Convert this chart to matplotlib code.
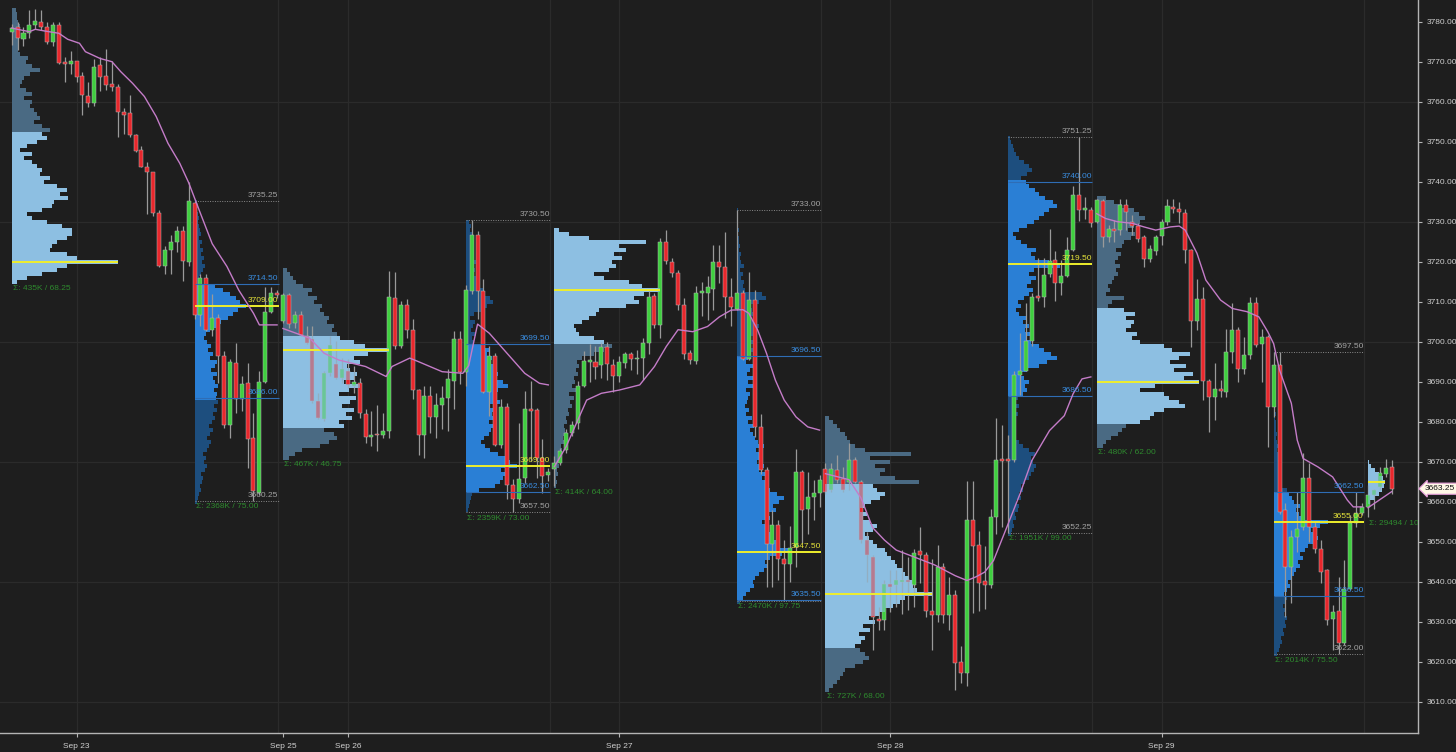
import numpy as np
import matplotlib
matplotlib.use('Agg')
import matplotlib.pyplot as plt
from matplotlib.transforms import blended_transform_factory

plt.rcParams['font.family'] = ['Liberation Sans', 'DejaVu Sans']

#-----30 min candles (open, high, low, close) per session-------#
eth_0923 = [
    (3777.4, 3779.5, 3774.1, 3778.4), (3778.7, 3780.0, 3773.0, 3775.9), (3775.8, 3778.7, 3774.0, 3777.2),
    (3777.2, 3783.0, 3776.0, 3779.2), (3779.2, 3783.2, 3778.2, 3780.2), (3779.9, 3783.0, 3778.0, 3778.8),
    (3778.7, 3780.0, 3774.5, 3775.0), (3774.9, 3780.0, 3774.0, 3779.3), (3779.3, 3780.0, 3769.5, 3769.7),
    (3770.0, 3771.2, 3765.0, 3769.5), (3769.4, 3772.8, 3767.0, 3770.3), (3770.2, 3770.3, 3765.0, 3766.2),
    (3766.4, 3767.4, 3756.6, 3761.6), (3761.4, 3764.9, 3758.7, 3759.7), (3759.7, 3770.7, 3759.0, 3768.7),
    (3769.1, 3771.2, 3762.8, 3766.2), (3766.4, 3773.2, 3763.0, 3764.1), (3764.5, 3770.3, 3762.8, 3763.8),
    (3763.6, 3764.5, 3751.1, 3757.4), (3757.4, 3758.4, 3752.0, 3756.8), (3757.2, 3761.6, 3751.1, 3751.6),
    (3751.7, 3752.0, 3747.4, 3747.8), (3748.0, 3749.0, 3743.6, 3743.6), (3743.6, 3744.9, 3732.0, 3742.4),
    (3742.5, 3742.5, 3731.5, 3732.1), (3732.1, 3733.0, 3718.6, 3719.0), (3719.0, 3724.0, 3717.0, 3723.0),
    (3723.0, 3726.7, 3717.0, 3724.9), (3724.9, 3729.0, 3722.4, 3727.6), (3727.6, 3729.0, 3715.3, 3720.3),
    (3719.9, 3739.9, 3719.0, 3735.1),
]
rth_0923 = [
    (3734.8, 3735.25, 3705.6, 3706.6), (3706.6, 3716.9, 3704.0, 3715.9), (3715.9, 3716.9, 3702.7, 3703.0),
    (3703.0, 3712.0, 3701.5, 3706.0), (3706.0, 3706.9, 3689.8, 3696.4), (3696.4, 3697.7, 3678.5, 3679.3),
    (3679.1, 3695.6, 3676.0, 3694.9), (3694.6, 3699.8, 3682.3, 3685.6), (3685.6, 3691.4, 3682.7, 3689.4),
    (3689.8, 3694.8, 3668.5, 3675.8), (3676.0, 3682.3, 3660.25, 3662.6), (3662.2, 3692.7, 3661.8, 3690.0),
    (3690.0, 3713.6, 3689.8, 3707.5), (3707.5, 3713.6, 3707.3, 3712.3), (3712.1, 3713.0, 3711.0, 3711.6),
]
eth_0926 = [
    (3705.2, 3712.3, 3704.8, 3711.6), (3711.6, 3712.3, 3703.5, 3704.4), (3704.6, 3707.7, 3703.5, 3706.6),
    (3706.6, 3707.7, 3701.4, 3701.6), (3701.5, 3704.0, 3699.4, 3699.8), (3700.6, 3704.0, 3684.8, 3685.2),
    (3685.2, 3687.3, 3680.6, 3681.0), (3680.6, 3692.7, 3680.2, 3692.3), (3692.3, 3701.5, 3691.4, 3699.1),
    (3694.4, 3700.2, 3690.6, 3691.0), (3691.0, 3696.0, 3689.8, 3693.1), (3692.7, 3695.6, 3688.5, 3689.1),
    (3689.0, 3693.9, 3687.3, 3690.0), (3689.8, 3691.0, 3681.0, 3682.3), (3682.0, 3683.1, 3674.8, 3676.2),
    (3676.2, 3682.7, 3673.9, 3676.8), (3676.9, 3684.3, 3672.7, 3676.6), (3676.8, 3682.3, 3676.0, 3677.7),
    (3677.7, 3717.75, 3676.0, 3711.3), (3710.9, 3717.5, 3698.1, 3699.0), (3699.0, 3710.2, 3698.5, 3709.1),
    (3709.1, 3710.6, 3701.0, 3703.0), (3703.0, 3705.6, 3685.6, 3687.9), (3687.9, 3688.1, 3671.8, 3676.8),
    (3676.8, 3688.9, 3671.0, 3686.4), (3686.4, 3688.9, 3677.3, 3681.3), (3681.3, 3687.3, 3676.0, 3684.3),
    (3684.3, 3688.9, 3678.1, 3686.0), (3686.0, 3693.1, 3677.7, 3690.6), (3690.2, 3702.7, 3683.1, 3700.8),
    (3700.8, 3702.7, 3689.4, 3692.4),
]
rth_0926 = [
    (3692.5, 3714.1, 3688.9, 3712.9), (3712.7, 3730.5, 3711.9, 3726.7), (3726.7, 3727.7, 3705.6, 3712.7),
    (3712.7, 3715.6, 3687.3, 3687.4), (3687.4, 3698.9, 3681.4, 3696.4), (3696.4, 3697.3, 3673.9, 3674.3),
    (3674.3, 3685.6, 3673.5, 3683.8), (3683.8, 3684.8, 3660.6, 3664.3), (3664.3, 3665.6, 3657.5, 3660.7),
    (3660.7, 3679.7, 3659.7, 3665.7), (3666.0, 3687.7, 3664.7, 3683.3), (3683.3, 3690.2, 3670.2, 3682.6),
    (3682.9, 3683.5, 3666.0, 3671.0), (3671.0, 3675.6, 3662.2, 3666.4), (3666.6, 3668.5, 3665.2, 3667.4),
]
eth_0927 = [
    (3668.3, 3671.4, 3664.0, 3669.7), (3669.7, 3673.5, 3669.3, 3672.7), (3672.9, 3678.1, 3672.2, 3677.3),
    (3677.3, 3680.2, 3676.4, 3679.3), (3679.6, 3690.2, 3678.1, 3688.9), (3689.0, 3697.8, 3688.6, 3695.3),
    (3695.0, 3699.5, 3690.0, 3695.3), (3695.0, 3699.0, 3690.7, 3693.8), (3694.2, 3700.0, 3691.0, 3698.6),
    (3698.6, 3700.0, 3690.5, 3694.4), (3694.2, 3695.7, 3687.5, 3691.5), (3691.5, 3696.5, 3690.0, 3695.0),
    (3694.8, 3697.5, 3693.5, 3696.9), (3696.9, 3697.5, 3693.0, 3695.8), (3695.6, 3698.0, 3692.0, 3695.7),
    (3696.0, 3701.0, 3690.5, 3699.8), (3699.8, 3713.0, 3697.0, 3711.1), (3711.5, 3712.3, 3703.5, 3704.2),
    (3704.2, 3726.0, 3701.0, 3725.0), (3725.0, 3728.0, 3719.5, 3720.3), (3720.0, 3721.0, 3716.3, 3717.3),
    (3717.1, 3718.0, 3708.0, 3709.2), (3709.2, 3711.0, 3695.6, 3696.9), (3697.1, 3698.0, 3694.5, 3695.4),
    (3695.1, 3714.0, 3694.5, 3712.2), (3712.3, 3715.0, 3706.5, 3712.4), (3712.3, 3716.5, 3705.5, 3713.6),
    (3713.2, 3724.2, 3708.0, 3720.0), (3720.0, 3724.2, 3714.7, 3718.8), (3718.6, 3727.5, 3706.0, 3711.3),
    (3711.3, 3716.0, 3704.0, 3708.6),
]
rth_0927 = [
    (3708.3, 3733.0, 3707.9, 3712.2), (3712.2, 3712.9, 3695.4, 3695.8), (3695.8, 3717.5, 3695.4, 3710.4),
    (3710.4, 3712.9, 3676.2, 3678.7), (3678.7, 3682.0, 3667.0, 3667.9), (3667.9, 3668.7, 3638.7, 3649.4),
    (3649.4, 3657.9, 3638.7, 3654.3), (3654.3, 3655.4, 3640.4, 3645.8), (3645.8, 3650.4, 3635.25, 3644.4),
    (3644.4, 3653.9, 3640.0, 3648.5), (3648.7, 3673.3, 3643.7, 3667.5), (3667.5, 3667.9, 3649.6, 3657.9),
    (3658.1, 3667.5, 3652.0, 3661.1), (3661.1, 3665.4, 3655.4, 3662.2), (3662.2, 3666.7, 3658.7, 3665.4),
]
eth_0928 = [
    (3668.3, 3669.6, 3662.0, 3662.5), (3662.9, 3669.6, 3662.5, 3668.1), (3667.9, 3671.7, 3664.6, 3665.4),
    (3665.6, 3668.7, 3662.5, 3662.9), (3665.0, 3674.6, 3662.9, 3670.4), (3670.4, 3671.2, 3664.6, 3665.0),
    (3665.0, 3665.4, 3649.6, 3650.4), (3650.4, 3652.5, 3640.0, 3646.7), (3646.3, 3646.7, 3622.9, 3631.2),
    (3630.8, 3633.7, 3627.9, 3630.2), (3630.4, 3640.4, 3627.9, 3639.4), (3639.4, 3642.9, 3632.5, 3638.7),
    (3639.2, 3642.9, 3633.7, 3640.4), (3640.0, 3647.9, 3632.0, 3640.3), (3640.2, 3646.2, 3632.9, 3640.0),
    (3639.2, 3648.3, 3633.7, 3647.3), (3647.6, 3653.7, 3639.6, 3646.8), (3646.7, 3647.5, 3631.2, 3632.7),
    (3632.7, 3645.8, 3622.9, 3631.6), (3631.6, 3649.2, 3630.0, 3643.6), (3643.6, 3644.6, 3629.6, 3631.6),
    (3631.6, 3641.2, 3627.9, 3636.7), (3636.7, 3637.9, 3613.0, 3619.6), (3620.0, 3624.0, 3614.8, 3617.1),
    (3617.1, 3665.2, 3614.0, 3655.5), (3655.5, 3665.2, 3632.3, 3649.0), (3649.2, 3652.7, 3632.8, 3639.7),
    (3640.2, 3649.0, 3633.3, 3639.3), (3639.3, 3658.3, 3638.4, 3656.3), (3656.3, 3681.0, 3652.0, 3670.5),
    (3670.8, 3679.1, 3653.7, 3670.3),
]
rth_0928 = [
    (3670.8, 3676.8, 3652.25, 3670.1), (3670.5, 3692.6, 3670.0, 3691.6), (3691.6, 3702.3, 3686.6, 3692.6),
    (3692.8, 3709.7, 3692.6, 3700.2), (3700.2, 3712.1, 3699.0, 3711.1), (3711.5, 3720.9, 3710.2, 3711.0),
    (3711.2, 3720.9, 3708.8, 3716.7), (3716.9, 3728.3, 3716.2, 3720.1), (3720.4, 3722.7, 3710.2, 3714.8),
    (3714.8, 3720.4, 3711.6, 3716.5), (3716.5, 3726.1, 3716.2, 3723.0), (3723.0, 3738.9, 3722.7, 3736.6),
    (3736.6, 3751.25, 3730.1, 3732.9), (3733.0, 3736.1, 3730.6, 3733.2), (3732.9, 3733.8, 3728.7, 3729.7),
]
eth_0929 = [
    (3730.0, 3735.8, 3729.6, 3735.4), (3735.2, 3735.8, 3723.7, 3726.2), (3726.2, 3729.2, 3725.0, 3728.3),
    (3728.3, 3730.4, 3725.0, 3727.7), (3727.9, 3735.8, 3726.7, 3734.2), (3734.2, 3735.8, 3727.9, 3732.5),
    (3730.0, 3731.6, 3726.7, 3729.0), (3729.0, 3729.6, 3725.0, 3725.8), (3726.1, 3726.7, 3718.6, 3720.6),
    (3720.8, 3724.2, 3720.0, 3723.1), (3722.7, 3726.7, 3721.7, 3726.2), (3726.4, 3730.8, 3724.2, 3730.0),
    (3730.0, 3735.8, 3729.2, 3733.9), (3733.6, 3735.8, 3732.1, 3733.1), (3733.3, 3735.0, 3729.6, 3732.5),
    (3732.1, 3733.3, 3719.6, 3722.9), (3722.9, 3723.3, 3698.7, 3705.2), (3705.2, 3715.8, 3702.9, 3710.6),
    (3710.8, 3713.7, 3685.4, 3690.2), (3690.2, 3690.8, 3677.5, 3686.1), (3686.1, 3694.6, 3680.4, 3688.1),
    (3688.1, 3690.4, 3686.2, 3687.6), (3687.5, 3703.3, 3686.2, 3697.5), (3697.5, 3709.6, 3694.6, 3702.9),
    (3702.9, 3703.7, 3690.0, 3693.3), (3693.3, 3701.2, 3692.0, 3696.6), (3696.6, 3711.2, 3695.8, 3709.7),
    (3709.7, 3711.2, 3698.7, 3699.2), (3699.4, 3703.3, 3690.0, 3701.1), (3701.1, 3701.6, 3673.75, 3683.7),
]
rth_0929 = [
    (3683.7, 3697.5, 3681.2, 3694.1), (3694.1, 3697.5, 3657.0, 3657.5), (3657.9, 3659.6, 3631.2, 3643.7),
    (3643.7, 3652.9, 3634.6, 3651.1), (3651.3, 3662.5, 3647.5, 3653.3), (3653.7, 3672.2, 3652.9, 3666.0),
    (3666.0, 3669.7, 3650.0, 3653.7), (3653.7, 3655.0, 3647.1, 3648.1), (3648.3, 3650.4, 3639.6, 3642.5),
    (3642.9, 3643.3, 3629.2, 3630.4), (3630.6, 3634.2, 3622.9, 3632.5), (3632.7, 3641.2, 3622.0, 3624.6),
    (3624.6, 3645.4, 3624.2, 3638.3), (3638.3, 3656.6, 3637.9, 3654.7), (3654.7, 3662.5, 3653.7, 3657.2),
    (3657.2, 3659.6, 3656.6, 3658.7),
]
eth_0930 = [
    (3658.8, 3664.2, 3656.2, 3661.6), (3661.6, 3663.3, 3658.3, 3662.9), (3663.7, 3668.7, 3662.9, 3667.2),
    (3667.0, 3670.8, 3666.2, 3668.4), (3668.7, 3670.5, 3661.9, 3663.25),
]

#-----volume profiles, 1 point rows from the low upward (relative volume)-------#
prof_eth_0923 = [5, 15, 30, 45, 55, 106, 65, 55, 38, 40, 45, 55, 60, 60, 50, 35, 20, 15, 30, 40,
                 42, 56, 48, 55, 45, 32, 38, 28, 30, 25, 20, 12, 20, 8, 15, 25, 35, 30, 38, 30,
                 22, 28, 25, 22, 18, 20, 12, 20, 14, 8, 10, 12, 18, 28, 20, 14, 16, 8, 6, 7,
                 6, 6, 7, 7, 8, 6, 5, 5, 4]
prof_rth_0923 = [2, 3, 4, 6, 5, 7, 8, 6, 10, 12, 9, 11, 8, 12, 14, 16, 12, 15, 18, 14,
                 17, 20, 18, 22, 19, 23, 21, 22, 19, 23, 20, 18, 22, 16, 20, 22, 15, 18, 13, 16,
                 12, 9, 11, 15, 22, 26, 33, 38, 42, 50, 44, 40, 35, 28, 20, 5, 4, 6, 8, 10,
                 7, 9, 6, 8, 5, 7, 4, 6, 5, 4, 3, 4, 3, 2, 3, 2]
prof_eth_0926 = [6, 12, 19, 36, 45, 53, 50, 40,
                 60, 55, 68, 62, 70, 58, 66, 72, 55, 65, 76, 60, 70, 73, 66, 63, 76, 70, 83, 104, 80, 70, 56,
                 53, 48, 50, 43, 45, 40, 36, 38, 30, 33, 25, 28, 20, 13, 10, 7, 4]
prof_rth_0926 = [2, 3, 4, 5, 6,
                 13, 30, 35, 38, 40, 36, 52, 45, 40, 33, 25, 20, 15, 18, 24, 26, 28, 24, 30, 27,
                 32, 25, 35, 30, 28, 33, 43, 38, 30, 33, 28, 30, 26, 27, 22, 25, 20,
                 8, 6, 10, 5, 7, 9, 4, 8, 18, 22, 28, 25, 20, 17, 12, 10, 14, 8, 9, 7,
                 10, 6, 8, 5, 7, 6, 5, 7, 4, 5, 3]
prof_eth_0927 = [2, 3, 2, 4, 3, 5, 4, 6, 5, 8, 7, 10, 9, 12, 11, 10, 13, 12, 15, 14,
                 18, 16, 20, 15, 22, 18, 21, 20, 24, 22, 25, 23, 28, 40, 50, 58,
                 50, 40, 25, 22, 20, 28, 35, 42, 45, 72, 85, 80, 90, 106, 88, 75, 50, 40, 55,
                 62, 58, 68, 60, 72, 65, 92, 35, 15, 5]
prof_rth_0927 = [3, 5, 8, 12, 15, 14, 16, 20, 24, 28, 25, 30, 40, 46, 38, 36, 30, 33, 28, 25,
                 22, 30, 26, 35, 32, 38, 42, 36, 30, 25, 28, 22, 26, 20, 24, 18, 22, 20, 17, 24,
                 19, 16, 14, 12, 15, 10, 13, 8, 11, 7, 9, 10, 12, 8, 14, 10, 15, 9, 12, 14, 8, 10,
                 12, 14, 10, 16, 12, 18, 14, 20, 15, 12, 17, 13, 10, 20, 26, 22, 7, 5, 6, 4,
                 5, 3, 6, 4, 3, 4, 2, 3, 2, 2, 1, 2, 1, 1, 1, 1, 1]
prof_eth_0928 = [4, 8, 12, 15, 18, 20, 30, 38, 44, 40, 35,
                 30, 36, 40, 34, 45, 38, 50, 44, 54, 60, 68, 75, 80, 107, 92, 88, 87, 84, 80, 78,
                 72, 70, 66, 62, 60, 52, 48, 44, 40, 48, 52, 45, 38, 42, 35, 40, 46, 55, 60, 52, 48,
                 94, 70, 55, 60, 50, 65, 45, 86, 40, 30, 25, 22, 20, 15, 12, 8, 4]
prof_rth_0928 = [3, 4, 6, 5, 8, 7, 9, 10, 8, 12, 10, 14, 12, 16, 20, 22, 25, 27, 24, 22,
                 26, 20, 14, 10, 8, 6, 7, 5, 8, 6, 9, 7, 10, 8, 9,
                 14, 18, 16, 20, 15, 12, 18, 30, 38, 47, 42, 35, 30, 22, 18, 23, 16, 20, 14, 18,
                 10, 8, 12, 9, 15, 20, 24, 18, 22, 27, 20, 25, 50, 40, 26, 22, 27, 18, 12, 8,
                 5, 10, 18, 25, 30, 35, 40, 47, 44, 36, 30, 26, 20, 17,
                 12, 18, 23, 20, 15, 10, 8, 6, 5, 3, 2]
prof_eth_0929 = [6, 10, 15, 22, 26, 30,
                 45, 55, 59, 70, 91, 85, 75, 69, 45, 60, 106, 90, 99, 80, 92, 76, 85, 96, 78, 70,
                 45, 36, 42, 30, 35, 38, 30, 40, 28,
                 12, 16, 28, 10, 14, 12, 16, 18, 22, 20, 24, 19, 22, 25, 20, 26, 28, 35, 40, 32,
                 38, 45, 50, 44, 38, 26, 18, 10]
prof_rth_0929 = [3, 5, 6, 8, 7, 10, 9, 12, 11, 13, 10, 12, 9, 11, 13,
                 10, 13, 16, 14, 18, 20, 22, 26, 24, 28, 26, 30, 33, 38, 43, 40, 36, 45, 53, 29,
                 25, 22, 26, 20, 18, 15,
                 13, 8, 7, 6, 7, 5, 6, 4, 5, 4, 3, 4, 3, 2, 3, 2, 2, 2, 1, 2,
                 1, 1, 1, 1, 1, 1, 1, 1, 1, 1, 1, 1, 1, 1, 1]
prof_eth_0930 = [2, 6, 10, 12, 14, 15, 13, 10, 6, 3, 1]

prof_lo = [3715, 3660, 3671, 3658, 3664, 3635, 3613, 3652, 3674, 3622, 3660]
va_lo = [3715, 3686, 3679, 3662.5, 3700, 3635.5, 3624, 3686.5, 3680, 3636.5, 3660]
va_hi = [3752, 3714.5, 3701, 3699.5, 3728, 3696.5, 3664, 3740, 3708, 3662.5, 3670]
poc = [3720, 3709.0, 3698, 3669.0, 3713, 3647.5, 3637, 3719.5, 3690, 3655.0, 3665]
sigma_txt = ['Σ: 435K / 68.25', 'Σ: 2368K / 75.00', 'Σ: 467K / 46.75', 'Σ: 2359K / 73.00',
             'Σ: 414K / 64.00', 'Σ: 2470K / 97.75', 'Σ: 727K / 68.00', 'Σ: 1951K / 99.00',
             'Σ: 480K / 62.00', 'Σ: 2014K / 75.50', 'Σ: 29494 / 10.00']

# RTH session levels
rth_high = [3735.25, 3730.50, 3733.00, 3751.25, 3697.50]
rth_low = [3660.25, 3657.50, 3635.25, 3652.25, 3622.00]

#-----session VWAP (bar, price)--------------------------#
vwap_0923 = [(0, 3778.4), (3, 3777.5), (4, 3778.1), (5.5, 3777.7), (8, 3777.1), (9.5, 3775.6), (11.5, 3774.6),
             (12.5, 3772.5), (15, 3770.8), (17, 3770.0), (18.5, 3767.5), (20.5, 3764.6), (22.5, 3761.3),
             (24.5, 3756.3), (26.5, 3749.6), (28.5, 3744.6), (30, 3739.8), (32, 3732.1), (34, 3724.5),
             (36.5, 3718.8), (38.5, 3712.9), (41, 3707.1), (42, 3704.2), (45, 3704.2)]
vwap_0926 = [(46, 3703.3), (50.5, 3700.9), (53, 3697.1), (55.5, 3695.4), (60, 3693.8), (63.5, 3691.3),
             (64.5, 3693.8), (67.5, 3695.9), (69, 3695.0), (73, 3692.5), (76.5, 3692.1), (77.5, 3694.0),
             (79, 3704.4), (81, 3702.1), (84, 3697.1), (87, 3692.1), (89.5, 3689.6), (91, 3689.2)]
vwap_0927 = [(92, 3668.7), (94, 3673.7), (96, 3680.4), (97.5, 3685.4), (100, 3687.1), (103, 3687.9),
             (106.5, 3689.2), (109, 3693.8), (111, 3698.8), (113, 3703.0), (115.5, 3702.5), (118, 3703.8),
             (120, 3706.2), (122, 3707.9), (124, 3708.0), (125, 3707.1), (126.5, 3702.9), (128, 3697.1),
             (129.5, 3690.4), (131, 3685.4), (133, 3681.2), (135, 3678.7), (137, 3677.9)]
vwap_0928 = [(138, 3667.0), (142, 3665.5), (144, 3661.0), (146, 3653.5), (148, 3650.4), (150, 3647.9),
             (153, 3646.2), (156.5, 3644.2), (160, 3641.5), (162, 3640.3), (163.5, 3641.2), (165, 3642.4),
             (166.5, 3645.3), (168.5, 3652.7), (171, 3662.0), (173, 3670.3), (176, 3677.8), (178.5, 3681.5),
             (180, 3687.0), (181.5, 3690.7), (183, 3691.2)]
vwap_0929 = [(184, 3732.0), (185.5, 3730.8), (187.5, 3730.0), (190, 3729.6), (192, 3728.7), (194, 3727.9),
             (196.5, 3728.7), (198, 3728.9), (199, 3727.9), (201, 3722.1), (202.5, 3715.4), (205, 3710.4),
             (207, 3708.3), (209.5, 3707.5), (211.5, 3706.2), (213, 3702.5), (214, 3699.5), (215, 3692.9),
             (217, 3684.6), (218, 3675.4), (219, 3670.8), (221.5, 3668.7), (224, 3666.2), (226.5, 3660.4),
             (227.5, 3658.7), (229, 3658.7)]
vwap_0930 = [(230, 3658.5), (232, 3660.5), (234, 3662.5)]

tick_pos = [11, 46, 57, 103, 149, 195]
tick_lab = ['Sep 23', 'Sep 25', 'Sep 26', 'Sep 27', 'Sep 28', 'Sep 29']
last_price = 3663.25

sessions = [eth_0923, rth_0923, eth_0926, rth_0926, eth_0927, rth_0927,
            eth_0928, rth_0928, eth_0929, rth_0929, eth_0930]
profiles = [prof_eth_0923, prof_rth_0923, prof_eth_0926, prof_rth_0926, prof_eth_0927, prof_rth_0927,
            prof_eth_0928, prof_rth_0928, prof_eth_0929, prof_rth_0929, prof_eth_0930]
vwaps = [vwap_0923, vwap_0926, vwap_0927, vwap_0928, vwap_0929, vwap_0930]

#-----colours-------#
bg = '#1e1e1e'
grid_c = '#2b2b2b'
up_c, dn_c = '#3fcf3f', '#e8272c'
wick_c = '#9a9a9a'
eth_va, eth_out = '#8dbfe2', '#4a6a83'
rth_va, rth_out = '#2a7fd5', '#1d4e7e'
poc_c = '#eeee2c'
lvl_blue = '#3a8ee2'
lvl_gray = '#a3a3a3'
sig_c = '#2e8a2e'

fig = plt.figure(figsize=(14.56, 7.52), dpi=100, facecolor=bg)
ax = fig.add_axes([0, 19 / 752, 1418 / 1456, 733 / 752])
ax.set_facecolor(bg)
ax.set_xlim(-1.985, 238.48)
ax.set_ylim(3602.175, 3785.425)

# grid
for v in [11, 45.2, 57, 91.2, 103, 137.2, 149, 183.2, 195, 229.4]:
    ax.axvline(v, color=grid_c, lw=0.9, zorder=0)
for v in np.arange(3610, 3781, 30):
    ax.axhline(v, color=grid_c, lw=0.9, zorder=0)

starts = np.cumsum([0] + [len(s) for s in sessions[:-1]])
rth_k = 0
for k, (ohlc, st) in enumerate(zip(sessions, starts)):
    arr = np.array(ohlc)
    n = len(arr)
    x = st + np.arange(n)
    o, h, l, c = arr.T
    up = c >= o
    ax.vlines(x, np.minimum(l, np.minimum(o, c)), np.maximum(h, np.maximum(o, c)),
              color=wick_c, lw=0.9, zorder=3)
    ax.bar(x, np.maximum(np.abs(c - o), 0.35), width=0.68, bottom=np.minimum(o, c),
           color=np.where(up, up_c, dn_c), edgecolor='#b5b5b5', linewidth=0.35, zorder=4)

    # volume profile
    vol = np.array(profiles[k], dtype=float)
    p = prof_lo[k] + np.arange(len(vol))
    w = vol / vol.max() * 0.58 * n
    inva = (p >= va_lo[k]) & (p <= va_hi[k])
    eth = (k % 2 == 0)
    if eth:
        cols = np.where(inva, eth_va, eth_out)
        ax.barh(p, w, height=1.0, left=st, color=cols, linewidth=0, zorder=2)
        ax.barh(p[inva], w[inva], height=1.0, left=st, color=eth_va, alpha=0.55, linewidth=0, zorder=5)
        ax.hlines(poc[k], st, st + w.max(), color=poc_c, lw=1.4, zorder=6)
        low = min(p.min(), arr[:, 2].min())
        ax.text(st + 0.2, low - 0.7, sigma_txt[k], color=sig_c, fontsize=6, ha='left', va='top',
                zorder=8, clip_on=True)
    else:
        cols = np.where(inva, rth_va, rth_out)
        ax.barh(p, w, height=1.0, left=st, color=cols, linewidth=0, zorder=2)
        x1 = st + n - 1 + 0.25
        hi, lo = rth_high[rth_k], rth_low[rth_k]
        ax.hlines([hi, lo], st, x1, color='#8a8a8a', lw=0.7, linestyles=(0, (1, 1.5)), zorder=6)
        ax.hlines([va_hi[k], va_lo[k]], st, x1, color='#2f6db5', lw=0.8, zorder=6)
        ax.hlines(poc[k], st, x1, color=poc_c, lw=1.4, zorder=6)
        levels = [(hi, lvl_gray), (va_hi[k], lvl_blue), (poc[k], '#e6e43a'), (va_lo[k], lvl_blue)]
        if abs(lo - va_lo[k]) > 1:
            levels.append((lo, lvl_gray))
        for val, col in levels:
            ax.text(x1, val + 0.35, f'{val:.2f}', color=col, fontsize=6, ha='right', va='bottom', zorder=8)
        ax.text(st + 0.2, lo - 0.7, sigma_txt[k], color=sig_c, fontsize=6, ha='left', va='top', zorder=8)
        rth_k += 1

for vw in vwaps:
    vx, vy = zip(*vw)
    ax.plot(vx, vy, color='#c47cc8', lw=1.0, zorder=7)

# axes styling
for side in ['left', 'top']:
    ax.spines[side].set_visible(False)
for side in ['right', 'bottom']:
    ax.spines[side].set_color('#b4b4b4')
    ax.spines[side].set_linewidth(1.0)
ax.yaxis.tick_right()
yt = np.arange(3610, 3781, 10)
ax.set_yticks(yt)
ax.set_yticklabels([f'{v:.2f}' for v in yt])
ax.set_xticks(tick_pos)
ax.set_xticklabels(tick_lab)
ax.tick_params(axis='y', colors='#b4b4b4', labelcolor='#cfcfcf', labelsize=6, length=3, pad=3)
ax.tick_params(axis='x', colors='#b4b4b4', labelcolor='#cfcfcf', labelsize=6, length=3, pad=4)

tr = blended_transform_factory(ax.transAxes, ax.transData)
ax.text(1.005, last_price, f'{last_price:.2f}', transform=tr, ha='left', va='center', fontsize=6,
        color='#111111', clip_on=False, zorder=10,
        bbox=dict(boxstyle='larrow,pad=0.25', fc='#fff8e6', ec='#e39ad6', lw=0.8))

fig.savefig('out.png', dpi=100, facecolor=bg)
